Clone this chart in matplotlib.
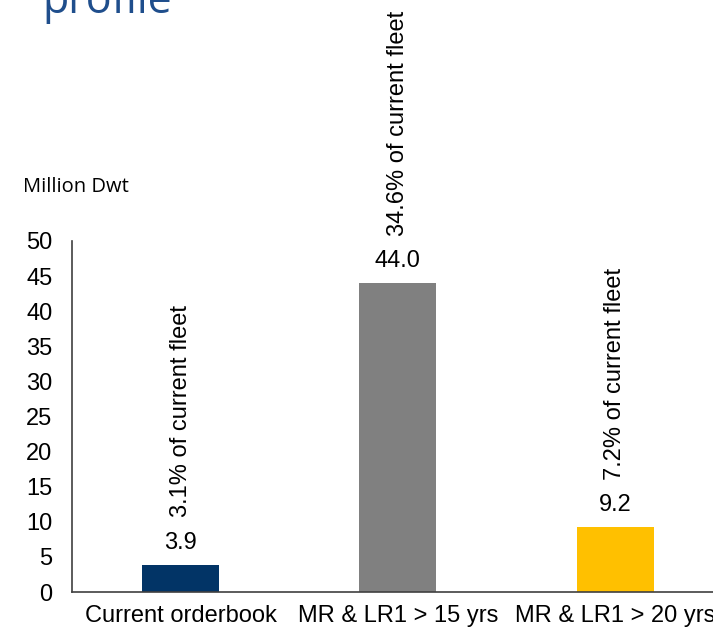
import matplotlib
matplotlib.use("Agg")
import matplotlib.pyplot as plt

categories = ["Current orderbook", "MR & LR1 > 15 yrs", "MR & LR1 > 20 yrs"]
values = [3.9, 44.0, 9.2]
shares = ["3.1% of current fleet", "34.6% of current fleet", "7.2% of current fleet"]
colors = ["#023466", "#808080", "#FFC000"]

plt.rcParams['font.family'] = ['Liberation Sans', 'DejaVu Sans']

fig = plt.figure(figsize=(7.13, 6.31), dpi=100)
ax = fig.add_axes([0.101, 0.0618, 0.914, 0.5563])

x = list(range(len(categories)))
bars = ax.bar(x, values, width=0.354, color=colors)

ax.set_xlim(-0.5, 2.5)
ax.set_ylim(0, 50)
ax.set_yticks(range(0, 51, 5))
ax.set_xticks(x)
ax.set_xticklabels(categories, fontsize=17)
ax.tick_params(axis='y', labelsize=17, length=0, pad=14)
ax.tick_params(axis='x', length=0, pad=9)

for s in ['top', 'right']:
    ax.spines[s].set_visible(False)
for s in ['left', 'bottom']:
    ax.spines[s].set_color('#404040')
    ax.spines[s].set_linewidth(1.2)

for b, v, sh in zip(bars, values, shares):
    cx = b.get_x() + b.get_width() / 2
    ax.annotate(f"{v:.1f}", (cx, v), xytext=(0, 8), textcoords='offset points',
                ha='center', va='bottom', fontsize=17, annotation_clip=False)
    ax.annotate(sh, (cx, v), xytext=(0, 34), textcoords='offset points',
                ha='center', va='bottom', rotation=90, fontsize=17,
                annotation_clip=False)

fig.text(23 / 713, 1 - 192 / 631, "Million Dwt", fontsize=14.5, va='baseline',
         family=['Open Sans', 'DejaVu Sans'])
fig.text(42 / 713, 1 - 13 / 631, "profile", fontsize=31, color='#1F4E8C',
         family=['Open Sans', 'DejaVu Sans'], va='baseline')

fig.savefig("out.png", dpi=100)
